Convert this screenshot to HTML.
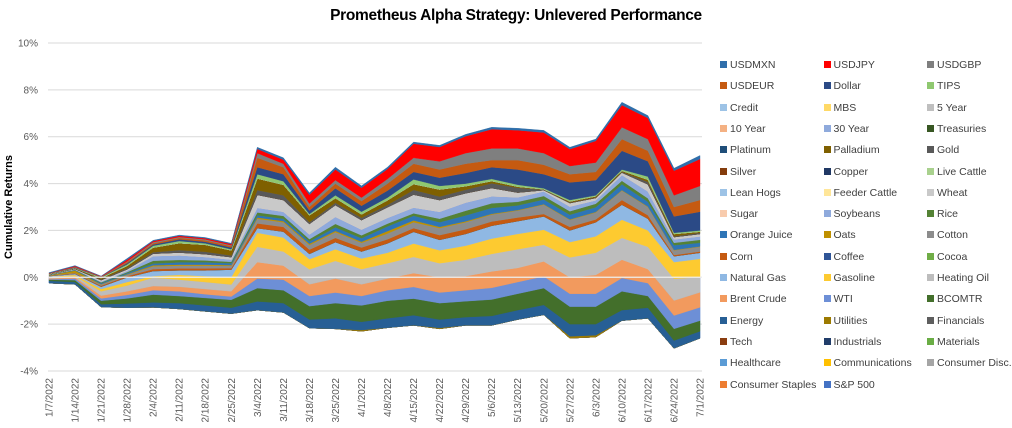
<!DOCTYPE html>
<html><head><meta charset="utf-8"><style>
body{margin:0;background:#fff;width:1012px;height:428px;overflow:hidden;font-family:"Liberation Sans",sans-serif}
#wrap{position:relative;width:1012px;height:428px}
.title{position:absolute;left:0;width:1012px;top:7px;text-align:center;font-weight:bold;font-size:15.5px;color:#000;letter-spacing:-0.3px;padding-left:20px;box-sizing:border-box}
.legend{position:absolute;left:720px;top:59px;width:294px}
.li{position:absolute;font-size:10.5px;color:#404040;white-space:nowrap;line-height:14px}
.sw{display:inline-block;width:7px;height:7px;margin-right:3px;vertical-align:0px}
</style></head><body>
<div id="wrap">
<div class="title">Prometheus Alpha Strategy: Unlevered Performance</div>
<svg id="chart" width="1012" height="428" style="position:absolute;left:0;top:0"></svg>
<div class="legend" id="legend"></div>
</div>
<script>
const dates=["1/7/2022","1/14/2022","1/21/2022","1/28/2022","2/4/2022","2/11/2022","2/18/2022","2/25/2022","3/4/2022","3/11/2022","3/18/2022","3/25/2022","4/1/2022","4/8/2022","4/15/2022","4/22/2022","4/29/2022","5/6/2022","5/13/2022","5/20/2022","5/27/2022","6/3/2022","6/10/2022","6/17/2022","6/24/2022","7/1/2022"];
const yTicks=[-4,-2,0,2,4,6,8,10];
const ZERO=[0,0,0,0,0,0,0,0,0,0,0,0,0,0,0,0,0,0,0,0,0,0,0,0,0,0];
const sp500=[-.25,-.3,-1.27,-1.3,-1.28,-1.35,-1.45,-1.55,-1.4,-1.5,-2.17,-2.2,-2.3,-2.15,-2.05,-2.2,-2.05,-2.05,-1.8,-1.6,-2.6,-2.55,-1.85,-1.75,-3.03,-2.6];
const utilities=[0,0,0,0,0,0,0,0,0,0,0,0,.05,0,0,.04,0,0,0,0,.08,.08,0,0,0,0];
const energy=[.10,.10,.12,.18,.21,.25,.25,.25,.37,.40,.37,.45,.35,.40,.43,.36,.35,.40,.40,.42,.52,.47,.45,.45,.33,.30];
const bcomtr=[.05,.08,.15,.22,.33,.30,.32,.34,.57,.55,.57,.65,.70,.75,.71,.70,.68,.70,.70,.72,.75,.75,.80,.50,.50,.45];
const wti=[.02,.07,.10,.15,.19,.20,.16,.14,.41,.45,.43,.45,.40,.45,.50,.45,.47,.50,.50,.50,.55,.55,.57,.55,.57,.57];
const brent=[.03,.05,.12,.15,.18,.20,.22,.22,.70,.60,.50,.60,.50,.50,.59,.65,.60,.70,.60,.64,.70,.80,.78,.60,.64,.64];
const heatingOil=[.05,.05,.18,.25,.36,.30,.30,.29,.65,.60,.64,.75,.65,.65,.69,.60,.70,.75,.80,.71,.85,.95,.93,.95,.93,.65];
const gasoline=[.02,.05,.10,.15,.06,.20,.25,.32,.60,.60,.43,.50,.45,.45,.57,.55,.60,.65,.65,.64,.65,.70,.78,.70,.71,.78];
const natGas=[.03,.05,.10,.20,.22,.20,.25,.32,.20,.25,.23,.30,.30,.40,.50,.45,.50,.55,.55,.57,.50,.60,.64,.50,.25,.26];
const corn=[.01,.02,.04,.05,.08,.08,.08,.06,.2,.2,.18,.18,.17,.17,.16,.2,.2,.18,.15,.1,.15,.12,.2,.15,.05,.05];
const cotton=[.01,.02,.05,.06,.12,.12,.12,.1,.2,.2,.2,.25,.2,.25,.25,.3,.3,.3,.3,.4,.3,.3,.4,.35,.2,.2];
const oats=[.01,.1,.02,.02,.04,.04,.04,.03,.05,.05,.05,.05,.05,.1,.08,.05,.04,.03,.02,.02,.02,.02,.02,.02,.02,.02];
const orangeJuice=[.01,.02,.04,.05,.08,.1,.1,.08,.1,.1,.1,.15,.15,.2,.2,.2,.25,.25,.2,.2,.2,.2,.25,.2,.2,.15];
const rice=[.01,.01,.03,.04,.12,.1,.08,.06,.12,.12,.1,.15,.12,.12,.1,.15,.2,.2,.15,.15,.15,.15,.15,.15,.1,.13];
const soybeans=[.01,.02,.04,.06,.2,.2,.15,.1,.2,.18,.2,.3,.25,.25,.25,.3,.35,.3,.2,.2,.2,.15,.25,.3,.15,.15];
const wheat=[.01,.02,.06,.06,.1,.12,.12,.1,.55,.5,.45,.5,.4,.45,.55,.5,.4,.35,.2,.05,.15,.1,.1,.3,.1,.1];
const gold=[.01,.01,.03,.05,.06,.1,.1,.07,.2,.2,.07,.1,.1,.1,.2,.15,.15,.2,.2,.02,.02,.02,.03,.1,.03,.05];
const palladium=[.01,.02,.06,.1,.2,.3,.3,.22,.5,.45,.3,.2,.15,.2,.25,.3,.15,.1,.05,.02,.05,.05,.05,.1,.1,.05];
const tips=[.01,.01,.03,.06,.08,.09,.06,.05,.18,.15,.05,.12,.11,.11,.2,.15,.11,.09,.08,.04,.06,.04,.05,.13,.05,.05];
const dollar=[0,.02,.01,.05,.05,.07,.07,.07,.30,.30,.15,.30,.25,.30,.32,.35,.45,.50,.65,.60,.75,.65,.80,.65,.70,.80];
const usdeur=[.01,.02,.01,.05,.05,.06,.06,.06,.40,.30,.15,.20,.20,.30,.35,.35,.40,.30,.40,.40,.35,.35,.50,.45,.40,.50];
const usdgbp=[.01,.01,.01,.03,.05,.04,.04,.04,.20,.15,.15,.15,.15,.20,.25,.35,.45,.50,.50,.50,.35,.40,.50,.50,.50,.60];
const usdjpy=[.01,.03,.01,.07,.05,.05,.05,.05,.18,.17,.37,.45,.42,.42,.60,.61,.72,.82,.78,.88,.72,.92,.95,.90,1.05,1.15];
const usdmxn=[.02,.02,.01,.05,.03,.03,.03,.03,.07,.08,.08,.10,.08,.08,.07,.07,.08,.08,.08,.09,.08,.08,.12,.10,.10,.15];

const seriesNames=["USDMXN","USDJPY","USDGBP","USDEUR","Dollar","TIPS","Credit","MBS","5 Year","10 Year","30 Year","Treasuries","Platinum","Palladium","Gold","Silver","Copper","Live Cattle","Lean Hogs","Feeder Cattle","Wheat","Sugar","Soybeans","Rice","Orange Juice","Oats","Cotton","Corn","Coffee","Cocoa","Natural Gas","Gasoline","Heating Oil","Brent Crude","WTI","BCOMTR","Energy","Utilities","Financials","Tech","Industrials","Materials","Healthcare","Communications","Consumer Disc.","Consumer Staples","S&P 500"];
const seriesValues=[usdmxn,usdjpy,usdgbp,usdeur,dollar,tips,ZERO,ZERO,ZERO,ZERO,ZERO,ZERO,ZERO,palladium,gold,ZERO,ZERO,ZERO,ZERO,ZERO,wheat,ZERO,soybeans,rice,orangeJuice,oats,cotton,corn,ZERO,ZERO,natGas,gasoline,heatingOil,brent,wti,bcomtr,energy,utilities,ZERO,ZERO,ZERO,ZERO,ZERO,ZERO,ZERO,ZERO,sp500];
const seriesColors=["#2f6eaa","#ff0000","#7f7f7f","#c55a11","#2b4a86","#8fc870","#9dc3e6","#ffd966","#bfbfbf","#f4b183","#8faadc","#385723","#1f4e79","#7f6000","#595959","#843c0c","#203864","#a9d18e","#9dc3e6","#ffe699","#c9c9c9","#f8cbad","#8faadc","#548235","#2e75b6","#bf9000","#8c8c8c","#c55a11","#2f5597","#70ad47","#8fb8e3","#fdca30","#bdbdbd","#f29a5e","#6d8fd6","#436f2b","#275f95","#9c7a00","#5e5e5e","#8a3d10","#213d6a","#6aad45","#5b9bd5","#ffc000","#a5a5a5","#ed7d31","#4472c4"];

const NS="http://www.w3.org/2000/svg";
const svg=document.getElementById('chart');
const X0=49,X1=700,Y10=43,Ym4=371;
function xs(i){return X0+(X1-X0)*i/(dates.length-1);}
function ys(v){return Ym4-(v+4)*(Ym4-Y10)/14;}
function mk(t,a){const e=document.createElementNS(NS,t);for(const k in a)e.setAttribute(k,a[k]);svg.appendChild(e);return e;}

yTicks.forEach(t=>{
  const g=mk('line',{x1:48,x2:702,y1:ys(t),y2:ys(t),stroke:'#d9d9d9','stroke-width':1});
  
  
  const tx=mk('text',{x:38,y:ys(t)+3.5,'text-anchor':'end','font-size':'10','fill':'#595959','font-family':'Liberation Sans, sans-serif'});
  tx.textContent=t+'%';
  
  
});

let cum=dates.map(()=>0);
for(let s=seriesValues.length-1;s>=0;s--){
  const vals=seriesValues[s];
  const next=cum.map((c,i)=>c+vals[i]);
  let d='';
  next.forEach((v,i)=>{d+=(i?'L':'M')+xs(i).toFixed(1)+','+ys(v).toFixed(1);});
  for(let i=cum.length-1;i>=0;i--)d+='L'+xs(i).toFixed(1)+','+ys(cum[i]).toFixed(1);
  d+='Z';
  const p=mk('path',{d:d,fill:seriesColors[s],stroke:seriesColors[s],'stroke-width':0.4});
  
  
  cum=next;
}
const ax=mk('line',{x1:48,x2:702,y1:ys(0),y2:ys(0),stroke:'#eeeeee','stroke-width':1.2});



dates.forEach((d,i)=>{
  const t=mk('text',{x:0,y:0,'text-anchor':'end','font-size':'10','fill':'#595959','font-family':'Liberation Sans, sans-serif',transform:'translate('+(xs(i)+3.5)+',378) rotate(-90)'});
  t.textContent=d;
  
  
});
const yt=mk('text',{x:0,y:0,'text-anchor':'middle','font-size':'11','font-weight':'bold','fill':'#000','font-family':'Liberation Sans, sans-serif',transform:'translate(12,207) rotate(-90)'});
yt.textContent='Cumulative Returns';



const lg=document.getElementById('legend');
seriesNames.forEach((n,i)=>{
  const el=document.createElement('div');
  el.className='li';
  el.style.left=(i%3)*103.5+'px';
  el.style.top=(Math.floor(i/3)*21.3-1)+'px';
  el.innerHTML='<span class="sw" style="background:'+seriesColors[i]+'"></span>'+n;
  
  
  lg.appendChild(el);
});
</script>
</body></html>
